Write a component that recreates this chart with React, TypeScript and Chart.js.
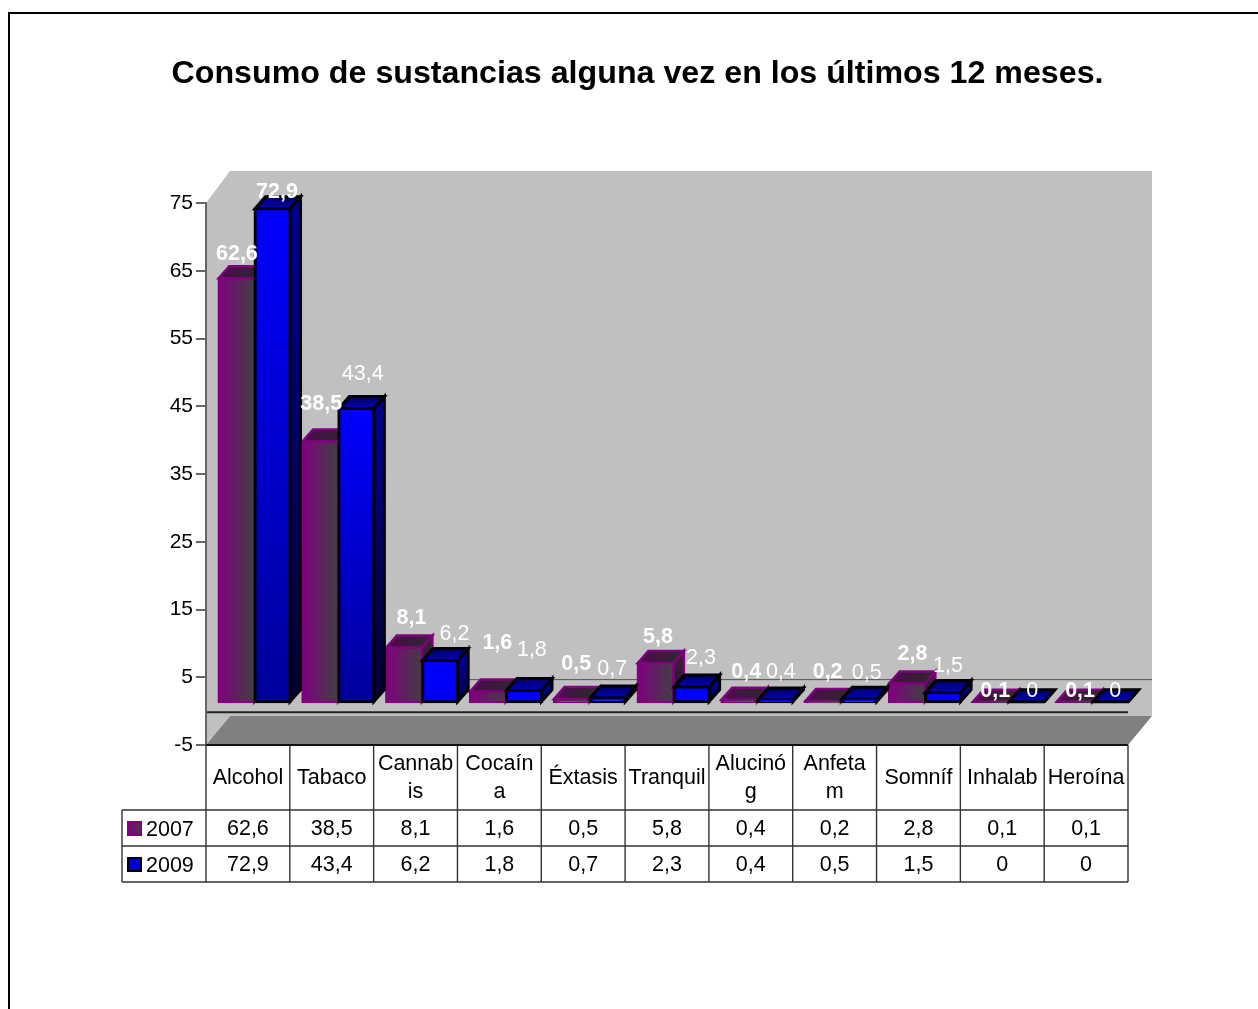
import React, { useEffect, useRef } from "react";
import { Chart, registerables } from "chart.js";

Chart.register(...registerables);

const categories: (string | string[])[] = [
  "Alcohol", "Tabaco", ["Cannab", "is"], ["Cocaín", "a"], "Éxtasis", "Tranquil",
  ["Alucinó", "g"], ["Anfeta", "m"], "Somníf", "Inhalab", "Heroína",
];
const series2007 = [62.6, 38.5, 8.1, 1.6, 0.5, 5.8, 0.4, 0.2, 2.8, 0.1, 0.1];
const series2009 = [72.9, 43.4, 6.2, 1.8, 0.7, 2.3, 0.4, 0.5, 1.5, 0, 0];
const seriesNames = ["2007", "2009"];
const titleText = "Consumo de sustancias alguna vez en los últimos 12 meses.";

// Label nudges relative to each bar, as placed by the source's label layout.
const nudge2007X = [7, 7.5, 14, 16, 11, 9, 13.5, 11, 12, 11, 12];
const nudge2007Y = [-34, -47, -39, -58, -45, -36, -37, -39, -39, -20, -20];
const nudge2009X = [11, 13, 21, 14.5, 11, 16, 12, 14, 11.5, 12, 11];
const nudge2009Y = [-26, -44, -36, -50, -38, -38, -37, -36, -36, -21, -21];

const FONT = '"Liberation Sans", Arial, sans-serif';
const SIZE = 21.5;
const PLANE_DX = 6.6;
const PLANE_DY = -9;
const BAR_DX = 10.5;
const BAR_DY = -12;
const WALL_DX = 24;
const WALL_DY = -32;
const FLOOR_Y_BACK = 716;
const ROW_Y = [810, 846, 882];
const TABLE_LEFT = 122;
const INFLATE = 1;
const BORDER = [2.5, 3];

const fmt = (v: number) => String(v).replace(".", ",");

function poly(ctx: CanvasRenderingContext2D, pts: number[][]) {
  ctx.beginPath();
  pts.forEach(([x, y], i) => (i ? ctx.lineTo(x, y) : ctx.moveTo(x, y)));
  ctx.closePath();
}

function drawFaces(chart: any, index: number) {
  const ctx: CanvasRenderingContext2D = chart.ctx;
  const meta = chart.getDatasetMeta(index);
  const inset = BORDER[index] / 2 - INFLATE;
  meta.data.forEach((el: any) => {
    const x0 = el.x - el.width / 2 + inset;
    const x1 = el.x + el.width / 2 - inset;
    const yB = el.base - inset;
    const yT = Math.min(el.y + inset, yB);
    const h = el.base - el.y;
    const front = index === 0
      ? ctx.createLinearGradient(x0, 0, x1, 0)
      : ctx.createLinearGradient(0, el.y, 0, el.base);
    const deep = 255 - Math.min(100, h * 0.35);
    if (index === 0) {
      front.addColorStop(0, "#800080");
      front.addColorStop(1, "#404040");
    } else {
      front.addColorStop(0, "#0000ff");
      front.addColorStop(1, `rgb(0,0,${deep})`);
    }
    el.options = { ...el.options, backgroundColor: front };

    const side = ctx.createLinearGradient(0, yT, 0, yB);
    side.addColorStop(0, index === 0 ? "#352035" : "#000090");
    side.addColorStop(1, index === 0 ? "#201020" : `rgb(0,0,${Math.round(deep * 0.3)})`);
    poly(ctx, [[x1, yT], [x1 + BAR_DX, yT + BAR_DY], [x1 + BAR_DX, yB + BAR_DY], [x1, yB]]);
    ctx.fillStyle = side;
    ctx.fill();
    ctx.strokeStyle = index === 0 ? "#800080" : "#000";
    ctx.lineWidth = BORDER[index];
    ctx.lineJoin = "miter";
    ctx.stroke();

    let top: CanvasGradient;
    if (index === 0) {
      top = ctx.createLinearGradient(x0, 0, x1 + BAR_DX, 0);
      top.addColorStop(0, "#4d0a4d");
      top.addColorStop(1, "#2a2a2a");
    } else {
      top = ctx.createLinearGradient(0, yT + BAR_DY, 0, yT);
      top.addColorStop(0, "#000060");
      top.addColorStop(1, "#0000c0");
    }
    poly(ctx, [[x0, yT], [x0 + BAR_DX, yT + BAR_DY], [x1 + BAR_DX, yT + BAR_DY], [x1, yT]]);
    ctx.fillStyle = top;
    ctx.fill();
    ctx.stroke();
  });
}

const scene = {
  id: "scene",
  beforeDraw(chart: any) {
    const { ctx, chartArea: a } = chart;
    ctx.save();
    ctx.fillStyle = "#000";
    ctx.fillRect(8, 12, 1250, 2);
    ctx.fillRect(8, 12, 2, 997);
    poly(ctx, [
      [a.left, a.top], [a.left + WALL_DX, a.top + WALL_DY], [a.right + WALL_DX, a.top + WALL_DY],
      [a.right + WALL_DX, FLOOR_Y_BACK], [a.left + WALL_DX, FLOOR_Y_BACK], [a.left, a.bottom],
    ]);
    ctx.fillStyle = "#c0c0c0";
    ctx.fill();
    poly(ctx, [
      [a.left, a.bottom], [a.left + WALL_DX, FLOOR_Y_BACK],
      [a.right + WALL_DX, FLOOR_Y_BACK], [a.right, a.bottom],
    ]);
    ctx.fillStyle = "#808080";
    ctx.fill();
    const y0 = chart.scales.y.getPixelForValue(0);
    ctx.strokeStyle = "#555";
    ctx.lineWidth = 1;
    ctx.beginPath();
    ctx.moveTo(a.left + WALL_DX, y0 + WALL_DY + 0.5);
    ctx.lineTo(a.right + WALL_DX, y0 + WALL_DY + 0.5);
    ctx.stroke();
    ctx.strokeStyle = "#222";
    ctx.lineWidth = 2;
    ctx.beginPath();
    ctx.moveTo(a.left, y0 + 1);
    ctx.lineTo(a.right, y0 + 1);
    ctx.stroke();
    ctx.restore();
  },
  beforeDatasetDraw(chart: any, args: any) {
    // Chart.js paints the last dataset first; here the first series must lie below the second.
    if (args.index === 0) return false;
    const ctx = chart.ctx;
    ctx.save();
    ctx.translate(PLANE_DX, PLANE_DY);
    drawFaces(chart, 0);
    chart.getDatasetMeta(0).controller.draw();
    drawFaces(chart, 1);
    return true;
  },
  afterDatasetDraw(chart: any, args: any) {
    if (args.index === 1) chart.ctx.restore();
  },
  afterDatasetsDraw(chart: any) {
    const ctx = chart.ctx;
    ctx.save();
    ctx.fillStyle = "#fff";
    ctx.textAlign = "center";
    ctx.textBaseline = "middle";
    [0, 1].forEach((d) => {
      const values = d === 0 ? series2007 : series2009;
      const nx = d === 0 ? nudge2007X : nudge2009X;
      const ny = d === 0 ? nudge2007Y : nudge2009Y;
      chart.getDatasetMeta(d).data.forEach((el: any, i: number) => {
        // the source sets every 2007 label in bold, plus the first 2009 one
        ctx.font = `${d === 0 || i === 0 ? "bold " : ""}${SIZE}px ${FONT}`;
        ctx.fillText(fmt(values[i]), el.x + nx[i], el.y + ny[i] + 1);
      });
    });
    ctx.restore();
  },
  afterDraw(chart: any) {
    const { ctx, chartArea: a, scales } = chart;
    const x = scales.x;
    const step = (a.right - a.left) / categories.length;
    ctx.save();
    ctx.strokeStyle = "#333";
    ctx.lineWidth = 1.4;
    ctx.beginPath();
    for (let i = 0; i <= categories.length; i++) {
      const px = a.left + step * i;
      ctx.moveTo(px, a.bottom);
      ctx.lineTo(px, ROW_Y[2]);
    }
    ctx.moveTo(TABLE_LEFT, ROW_Y[0]);
    ctx.lineTo(TABLE_LEFT, ROW_Y[2]);
    ROW_Y.forEach((y) => {
      ctx.moveTo(TABLE_LEFT, y);
      ctx.lineTo(a.right, y);
    });
    ctx.stroke();
    ctx.strokeStyle = "#111";
    ctx.lineWidth = 2;
    ctx.beginPath();
    ctx.moveTo(a.left, a.bottom);
    ctx.lineTo(a.right, a.bottom);
    ctx.stroke();

    ctx.font = `${SIZE}px ${FONT}`;
    ctx.fillStyle = "#000";
    ctx.textBaseline = "middle";
    ctx.textAlign = "center";
    [series2007, series2009].forEach((vals, r) => {
      const y = (ROW_Y[r] + ROW_Y[r + 1]) / 2 + 1;
      vals.forEach((v, i) => ctx.fillText(fmt(v), x.getPixelForTick(i), y));
    });
    seriesNames.forEach((name, r) => {
      const y = (ROW_Y[r] + ROW_Y[r + 1]) / 2 + 1;
      const k = 128;
      const g = ctx.createLinearGradient(k, 0, k + 14, 0);
      g.addColorStop(0, r === 0 ? "#800080" : "#0000d0");
      g.addColorStop(1, r === 0 ? "#404040" : "#0000d0");
      ctx.fillStyle = g;
      ctx.fillRect(k, y - 7, 13, 13);
      ctx.strokeStyle = r === 0 ? "#800080" : "#000";
      ctx.lineWidth = 2;
      ctx.strokeRect(k, y - 7, 13, 13);
      ctx.fillStyle = "#000";
      ctx.textAlign = "left";
      ctx.fillText(name, 146, y + 1);
    });
    ctx.restore();
  },
};

export default function App() {
  const ref = useRef<HTMLCanvasElement>(null);
  useEffect(() => {
    const chart = new Chart(ref.current as HTMLCanvasElement, {
      type: "bar",
      data: {
        labels: categories as any,
        datasets: [
          {
            label: seriesNames[0], data: series2007, backgroundColor: "#800080", borderColor: "#800080",
            borderWidth: BORDER[0], borderSkipped: false, clip: false as any, inflateAmount: INFLATE,
            categoryPercentage: 0.86, barPercentage: 1,
          },
          {
            label: seriesNames[1], data: series2009, backgroundColor: "#0000ff", borderColor: "#000",
            borderWidth: BORDER[1], borderSkipped: false, clip: false as any, inflateAmount: INFLATE,
            categoryPercentage: 0.86, barPercentage: 1,
          },
        ],
      },
      options: {
        responsive: false,
        animation: false,
        layout: { padding: { left: 147, right: 130, top: 0, bottom: 0 } },
        plugins: {
          legend: { display: false },
          tooltip: { enabled: false },
          title: {
            display: true, text: titleText, color: "#000",
            font: { family: FONT, size: 32.2, weight: "bold", lineHeight: 1.2 },
            padding: { top: 55, bottom: 109.36 },
          },
        },
        scales: {
          x: {
            grid: { display: false },
            border: { display: false },
            afterFit: (s: any) => { s.height = 264; },
            ticks: {
              color: "#000", autoSkip: false, maxRotation: 0, minRotation: 0, padding: 11,
              crossAlign: "center", font: { family: FONT, size: SIZE, lineHeight: 1.3 },
            },
          },
          y: {
            min: -5, max: 75,
            afterFit: (s: any) => { s.width = 59; },
            grid: { drawOnChartArea: false, tickLength: 10, color: "#666", lineWidth: 2 },
            border: { color: "#666", width: 2 },
            ticks: { stepSize: 10, color: "#000", padding: 3, font: { family: FONT, size: 21 } },
          },
        },
      },
      plugins: [scene as any],
    });
    return () => chart.destroy();
  }, []);
  return (
    <div style={{ position: "absolute", left: 0, top: 0, width: 1258, height: 1009, background: "#fff" }}>
      <canvas ref={ref} width={1258} height={1009} style={{ display: "block" }} />
    </div>
  );
}
